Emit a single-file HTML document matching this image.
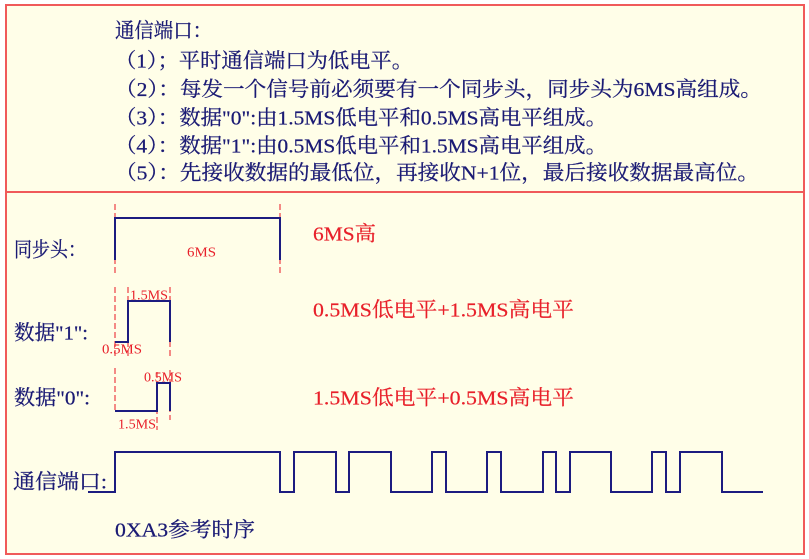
<!DOCTYPE html>
<html>
<head>
<meta charset="utf-8">
<style>
  html,body{margin:0;padding:0;background:#ffffff;}
  svg{display:block;}
  .t{font-family:"Liberation Serif","Noto Serif CJK SC",serif;fill:#1a1a74;stroke:#1a1a74;stroke-width:0.25;font-size:20.5px;}
  .r{font-family:"Liberation Serif","Noto Serif CJK SC",serif;fill:#e8202a;stroke:#e8202a;stroke-width:0.2;font-size:20.5px;}
  .s{font-family:"Liberation Serif","Noto Serif CJK SC",serif;fill:#e8202a;font-size:14px;}
</style>
</head>
<body>
<svg width="809" height="559" viewBox="0 0 809 559" xmlns="http://www.w3.org/2000/svg">
  <rect x="0" y="0" width="809" height="559" fill="#ffffff"/>
  <rect x="6" y="5" width="798" height="549" fill="#fffee8" stroke="#f05a5a" stroke-width="2"/>
  <line x1="6" y1="192" x2="804" y2="192" stroke="#f05a5a" stroke-width="2"/>

  <!-- header text -->
  <text class="t" x="115" y="37.5" textLength="97" lengthAdjust="spacingAndGlyphs">通信端口：</text>
  <text class="t" x="115" y="67.5" textLength="298" lengthAdjust="spacingAndGlyphs">（1）；平时通信端口为低电平。</text>
  <text class="t" x="115" y="96" textLength="647" lengthAdjust="spacingAndGlyphs">（2）：每发一个信号前必须要有一个同步头，同步头为6MS高组成。</text>
  <text class="t" x="115" y="124.5" textLength="492" lengthAdjust="spacingAndGlyphs">（3）：数据"0":由1.5MS低电平和0.5MS高电平组成。</text>
  <text class="t" x="115" y="152.5" textLength="492" lengthAdjust="spacingAndGlyphs">（4）：数据"1":由0.5MS低电平和1.5MS高电平组成。</text>
  <text class="t" x="115" y="179.5" textLength="644" lengthAdjust="spacingAndGlyphs">（5）：先接收数据的最低位，再接收N+1位，最后接收数据最高位。</text>

  <!-- left labels -->
  <text class="t" x="14" y="256.5" textLength="72" lengthAdjust="spacingAndGlyphs">同步头：</text>
  <text class="t" x="14" y="339.5" textLength="74" lengthAdjust="spacingAndGlyphs">数据"1":</text>
  <text class="t" x="14" y="404.5" textLength="76" lengthAdjust="spacingAndGlyphs">数据"0":</text>
  <text class="t" x="13" y="488.5" textLength="94" lengthAdjust="spacingAndGlyphs">通信端口:</text>
  <text class="t" x="115" y="536.5" textLength="140" lengthAdjust="spacingAndGlyphs">0XA3参考时序</text>

  <!-- right red descriptions -->
  <text class="r" x="313" y="240.5" textLength="63" lengthAdjust="spacingAndGlyphs">6MS高</text>
  <text class="r" x="313" y="316.5" textLength="261" lengthAdjust="spacingAndGlyphs">0.5MS低电平+1.5MS高电平</text>
  <text class="r" x="313" y="404.5" textLength="261" lengthAdjust="spacingAndGlyphs">1.5MS低电平+0.5MS高电平</text>

  <!-- red dashed guides -->
  <g stroke="#f06464" stroke-width="1.5" stroke-dasharray="6,3" fill="none">
    <line x1="115" y1="204" x2="115" y2="273"/>
    <line x1="280" y1="204" x2="280" y2="273"/>
    <line x1="115" y1="287" x2="115" y2="357"/>
    <line x1="128" y1="287" x2="128" y2="357"/>
    <line x1="170" y1="287" x2="170" y2="357"/>
    <line x1="115" y1="368" x2="115" y2="412"/>
    <line x1="157" y1="372" x2="157" y2="430"/>
    <line x1="170" y1="370" x2="170" y2="420"/>
  </g>

  <!-- blue signals -->
  <g stroke="#1c1c80" stroke-width="2" fill="none" stroke-linejoin="miter">
    <path d="M115,260 V218 H280 V260"/>
    <path d="M115,342 H128 V301 H170 V342"/>
    <path d="M115,411 H157 V383 H170 V411"/>
    <path d="M88,492 H115 V452 H280 V492 H294 V452 H336 V492 H349 V452 H391 V492 H432 V452 H446 V492 H487 V452 H501 V492 H543 V452 H556 V492 H570 V452 H611 V492 H652 V452 H666 V492 H680 V452 H722 V492 H763"/>
  </g>

  <!-- small red labels -->
  <text class="s" x="187" y="256.5" textLength="29" lengthAdjust="spacingAndGlyphs">6MS</text>
  <text class="s" x="130" y="299.5" textLength="38" lengthAdjust="spacingAndGlyphs">1.5MS</text>
  <text class="s" x="102" y="353.5" textLength="40" lengthAdjust="spacingAndGlyphs">0.5MS</text>
  <text class="s" x="144" y="381.5" textLength="38" lengthAdjust="spacingAndGlyphs">0.5MS</text>
  <text class="s" x="118" y="428.5" textLength="38" lengthAdjust="spacingAndGlyphs">1.5MS</text>
</svg>
</body>
</html>
